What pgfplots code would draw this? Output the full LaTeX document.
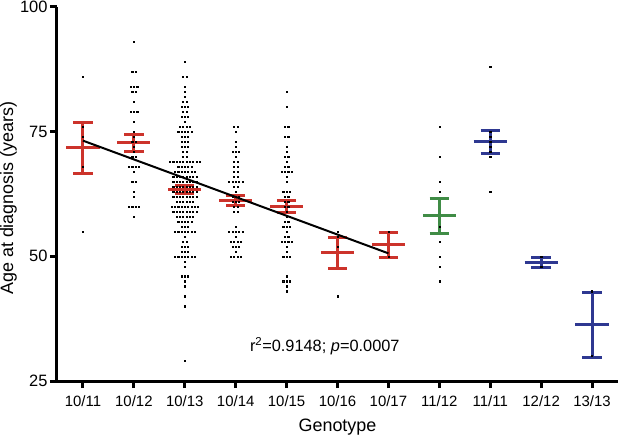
\documentclass[border=0pt]{standalone}
\usepackage{fontspec}
\setmainfont{Liberation Sans}
\usepackage{pgfplots}
\pgfplotsset{compat=1.18}
\definecolor{cred}{RGB}{204,51,43}
\definecolor{cgreen}{RGB}{64,140,70}
\definecolor{cblue}{RGB}{46,56,145}
\begin{document}
\begin{tikzpicture}
\useasboundingbox (-57bp,-56bp) rectangle (563bp,381bp);
\begin{axis}[
 scale only axis, width=561bp, height=374bp,
 xmin=-0.51, xmax=10.51, ymin=25, ymax=100,
 axis lines*=left,
 axis line style={line width=3bp, black},
 xtick={0,...,10},
 xticklabels={10/11,10/12,10/13,10/14,10/15,10/16,10/17,11/12,11/11,12/12,13/13},
 ytick={25,50,75,100},
 tick align=outside, major tick length=7bp,
 tick style={line width=3bp, black},
 /pgf/number format/assume math mode=true,
 xticklabel style={font=\fontsize{15}{18}\selectfont, yshift=-4bp},
 yticklabel style={font=\fontsize{16.5}{20}\selectfont, xshift=1bp},
 xlabel={Genotype}, ylabel={Age at diagnosis (years)},
 every axis x label/.style={at={(axis description cs:0.5,-0.122)}, anchor=center, font=\fontsize{18}{21}\selectfont},
 every axis y label/.style={at={(axis description cs:-0.0865,0.489)}, anchor=center, rotate=90, font=\fontsize{18}{21}\selectfont},
 clip=false,
]
% individual patients (beeswarm)
\addplot[only marks, mark=square*, mark size=0.6bp, mark options={draw=none, fill=black!80}] coordinates {
% 10/11
(0,86)(0,76)(0,74)(0,68)(0,55)
% 10/12
(1,93)(0.967,87)(1.033,87)(0.935,84)(1,84)(1.065,84)(0.967,83)(1.033,83)(1,81)
(0.935,79)(1,79)(1.065,79)(1,77)(1,75)(1,74)(0.967,73)(1.033,73)(1,72)(1,71)
(0.967,70)(1.033,70)(0.902,68)(0.967,68)(1.033,68)(1.098,68)(1,67)(0.967,65)(1.033,65)
(1,63)(1,62)(0.902,60)(0.967,60)(1.033,60)(1.098,60)(1,58)
% 10/13
(2,89)(1.967,86)(2.033,86)(2,84)(2,83)(2,82)(1.967,81)(2.033,81)
(1.935,80)(2,80)(2.065,80)(1.967,79)(2.033,79)(1.935,78)(2,78)(2.065,78)(2,77)
(1.902,76)(1.967,76)(2.033,76)(2.098,76)
(1.87,75)(1.935,75)(2,75)(2.065,75)(2.13,75)
(1.935,74)(2,74)(2.065,74)(1.935,73)(2,73)(2.065,73)(1.935,72)(2,72)(2.065,72)
(1.967,71)(2.033,71)(1.967,70)(2.033,70)
(1.707,69)(1.772,69)(1.837,69)(1.902,69)(1.967,69)(2.033,69)(2.098,69)(2.163,69)(2.228,69)(2.293,69)
(1.87,68)(1.935,68)(2,68)(2.065,68)(2.13,68)
(1.805,67)(1.87,67)(1.935,67)(2,67)(2.065,67)(2.13,67)(2.195,67)
(1.772,66)(1.837,66)(1.902,66)(1.967,66)(2.033,66)(2.098,66)(2.163,66)(2.228,66)
(1.772,65)(1.837,65)(1.902,65)(1.967,65)(2.033,65)(2.098,65)(2.163,65)(2.228,65)
(1.772,64)(1.837,64)(1.902,64)(1.967,64)(2.033,64)(2.098,64)(2.163,64)(2.228,64)
(1.772,63)(1.837,63)(1.902,63)(1.967,63)(2.033,63)(2.098,63)(2.163,63)(2.228,63)
(1.772,62)(1.837,62)(1.902,62)(1.967,62)(2.033,62)(2.098,62)(2.163,62)(2.228,62)
(1.837,61)(1.902,61)(1.967,61)(2.033,61)(2.098,61)(2.163,61)
(1.74,60)(1.805,60)(1.87,60)(1.935,60)(2,60)(2.065,60)(2.13,60)(2.195,60)(2.26,60)
(1.772,59)(1.837,59)(1.902,59)(1.967,59)(2.033,59)(2.098,59)(2.163,59)(2.228,59)
(1.837,58)(1.902,58)(1.967,58)(2.033,58)(2.098,58)(2.163,58)
(1.87,57)(1.935,57)(2,57)(2.065,57)(2.13,57)
(1.935,56)(2,56)(2.065,56)
(1.805,55)(1.87,55)(1.935,55)(2,55)(2.065,55)(2.13,55)(2.195,55)
(2,54)(1.967,53)(2.033,53)(1.935,52)(2,52)(2.065,52)(1.935,51)(2,51)(2.065,51)
(1.805,50)(1.87,50)(1.935,50)(2,50)(2.065,50)(2.13,50)(2.195,50)
(2,49)(2,48)(1.935,46)(2,46)(2.065,46)(2,45)(2,44)(2,42)(2,40)(2,29)
% 10/14
(2.967,76)(3.033,76)(3,75)(3,73)(3,72)(2.935,71)(3,71)(3.065,71)(3,70)
(2.967,69)(3.033,69)(2.967,68)(3.033,68)(2.967,67)(3.033,67)(2.967,66)(3.033,66)
(2.87,65)(2.935,65)(3,65)(3.065,65)(3.13,65)(2.967,64)(3.033,64)(3,63)
(2.935,62)(3,62)(3.065,62)(2.935,61)(3,61)(3.065,61)(2.967,60)(3.033,60)(2.967,59)(3.033,59)
(3,56)(2.87,55)(2.935,55)(3,55)(3.065,55)(3.13,55)(3,54)
(2.902,53)(2.967,53)(3.033,53)(3.098,53)(2.935,52)(3,52)(3.065,52)(3,51)
(2.902,50)(2.967,50)(3.033,50)(3.098,50)
% 10/15
(4,83)(4,80)(3.967,76)(4.033,76)(3.967,74)(4.033,74)(4,72)(4,71)(3.967,70)(4.033,70)(4,69)
(3.967,68)(4.033,68)(3.902,67)(3.967,67)(4.033,67)(4.098,67)(4,66)(4,65)
(3.935,63)(4,63)(4.065,63)(3.967,62)(4.033,62)(3.967,61)(4.033,61)(3.967,60)(4.033,60)
(4,59)(4,58)(3.967,57)(4.033,57)(3.935,56)(4,56)(4.065,56)(4,55)(3.967,54)(4.033,54)
(3.902,53)(3.967,53)(4.033,53)(4.098,53)(4,52)(4,51)(3.935,50)(4,50)(4.065,50)
(4,46)(3.935,45)(4,45)(4.065,45)(4,44)(4,43)
% 10/16
(5,55)(5,54)(5,52)(5,42)
% 10/17
(6,55)(6,50)
% 11/12
(7,76)(7,70)(7,65)(7,63)(7,56)(7,53)(7,50)(7,48)(7,45)
% 11/11
(8,88)(8,75)(8,74)(8,73)(8,72)(8,71)(8,70)(8,63)
% 12/12
(9,50)(9,48)
% 13/13
(10,43)(10,30)
};
% mean and SEM
\addplot[cred, line width=3bp, unbounded coords=jump] coordinates {
(-0.325,71.8)(0.325,71.8)(0,nan)(-0.19,76.8)(0.19,76.8)(0,nan)(0,76.8)(0,66.6)(0,nan)(-0.19,66.6)(0.19,66.6)(0,nan)
(0.675,72.8)(1.325,72.8)(0,nan)(0.81,74.4)(1.19,74.4)(0,nan)(1,74.4)(1,71.0)(0,nan)(0.81,71.0)(1.19,71.0)(0,nan)
(1.675,63.5)(2.325,63.5)(0,nan)(1.81,64.2)(2.19,64.2)(0,nan)(2,64.2)(2,62.6)(0,nan)(1.81,62.6)(2.19,62.6)(0,nan)
(2.675,61.2)(3.325,61.2)(0,nan)(2.81,62.2)(3.19,62.2)(0,nan)(3,62.2)(3,60.2)(0,nan)(2.81,60.2)(3.19,60.2)(0,nan)
(3.675,60.0)(4.325,60.0)(0,nan)(3.81,61.2)(4.19,61.2)(0,nan)(4,61.2)(4,58.8)(0,nan)(3.81,58.8)(4.19,58.8)(0,nan)
(4.675,50.8)(5.325,50.8)(0,nan)(4.81,53.8)(5.19,53.8)(0,nan)(5,53.8)(5,47.6)(0,nan)(4.81,47.6)(5.19,47.6)(0,nan)
(5.675,52.4)(6.325,52.4)(0,nan)(5.81,54.8)(6.19,54.8)(0,nan)(6,54.8)(6,49.8)(0,nan)(5.81,49.8)(6.19,49.8)
};
\addplot[cgreen, line width=3bp, unbounded coords=jump] coordinates {
(6.675,58.2)(7.325,58.2)(0,nan)(6.81,61.6)(7.19,61.6)(0,nan)(7,61.6)(7,54.6)(0,nan)(6.81,54.6)(7.19,54.6)
};
\addplot[cblue, line width=3bp, unbounded coords=jump] coordinates {
(7.675,73.0)(8.325,73.0)(0,nan)(7.81,75.2)(8.19,75.2)(0,nan)(8,75.2)(8,70.6)(0,nan)(7.81,70.6)(8.19,70.6)(0,nan)
(8.675,48.8)(9.325,48.8)(0,nan)(8.81,49.8)(9.19,49.8)(0,nan)(9,49.8)(9,47.8)(0,nan)(8.81,47.8)(9.19,47.8)(0,nan)
(9.675,36.4)(10.325,36.4)(0,nan)(9.81,42.8)(10.19,42.8)(0,nan)(10,42.8)(10,29.8)(0,nan)(9.81,29.8)(10.19,29.8)
};
% regression line
\addplot[black, line width=2bp] coordinates {(0,73.2) (6,50.6)};
\node[font=\fontsize{16.4}{19}\selectfont] at (axis cs:4.75,32) {r\textsuperscript{2}=0.9148; \textit{p}=0.0007};
\end{axis}
\end{tikzpicture}
\end{document}
